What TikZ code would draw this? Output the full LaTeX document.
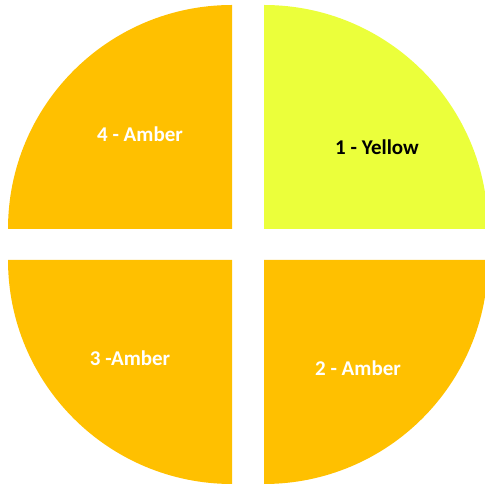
\documentclass[tikz,border=0pt]{standalone}
\usepackage{fontspec}
\setmainfont{Carlito}
\usepackage{xcolor}
\usepackage{tikz}
\definecolor{amber}{RGB}{255,192,0}
\definecolor{limeyellow}{RGB}{235,255,59}

\begin{document}
\begin{tikzpicture}[
    x=1pt, y=1pt,
    quarter/.style={fill=amber, draw=none},
    lbl/.style={font=\fontsize{21}{24}\selectfont\bfseries, text=white, align=center}
]
\useasboundingbox (0,0) rectangle (485,484);
\clip (0,0) rectangle (485,484);
% four quarters
\fill[quarter] (232,255) -- (232,479) arc[start angle=90, end angle=180, radius=224] -- cycle;
\fill[quarter, fill=limeyellow] (264,255) -- (488,255) arc[start angle=0, end angle=90, radius=224] -- cycle;
\fill[quarter] (232,224) -- (8,224) arc[start angle=180, end angle=270, radius=224] -- cycle;
\fill[quarter] (264,224) -- (264,0) arc[start angle=270, end angle=360, radius=224] -- cycle;
 
\node[lbl] (q4) at (140,350) {4 - Amber};
\node[lbl, text=black] (q1) at (377,337) {1 - Yellow};
\node[lbl] (q3) at (130,126) {3 -Amber};
\node[lbl] (q2) at (358,116) {2 - Amber};
\end{tikzpicture}
\end{document}
